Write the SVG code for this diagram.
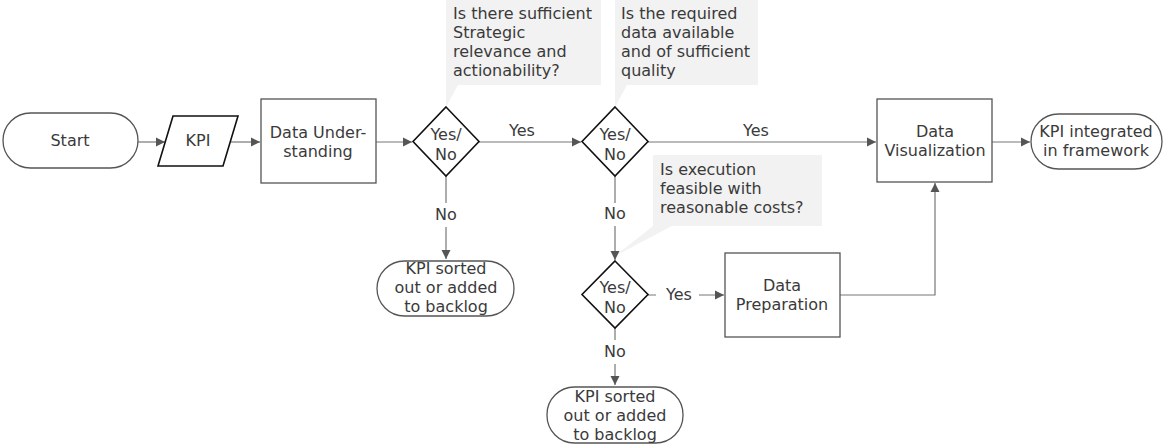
<svg xmlns="http://www.w3.org/2000/svg" width="1165" height="444" viewBox="0 0 1165 444">
<style>
text{font-family:"DejaVu Sans","Open Sans",sans-serif;font-size:16px;fill:#3a3a3a}
.c{text-anchor:middle}
.box{fill:#fff;stroke:#555;stroke-width:1.3}
.dia{fill:#fff;stroke:#111;stroke-width:1.6}
.call{fill:#f2f2f2;stroke:none}
.ln{fill:none;stroke:#777;stroke-width:1.2}
</style>
<defs>
<marker id="ah" markerWidth="10" markerHeight="10" refX="9" refY="5" orient="auto" markerUnits="userSpaceOnUse">
<path d="M0,0.5 L9,5 L0,9.5 Z" fill="#555"/>
</marker>
</defs>
<g id="callouts">
<g id="callout1"><path class="call" d="M446,0 H601 V85 H458 L446,107 V85 Z"/>
<text x="453" y="19">Is there sufficient</text><text x="453" y="38">Strategic</text><text x="453" y="57">relevance and</text><text x="453" y="76">actionability?</text></g>
<g id="callout2"><path class="call" d="M615,0 H758 V85 H627 L615,107 V85 Z"/>
<text x="621" y="19">Is the required</text><text x="621" y="38">data available</text><text x="621" y="57">and of sufficient</text><text x="621" y="76">quality</text></g>
<g id="callout3"><path class="call" d="M653,155 H822 V226 H672 L615,256 L653,226 Z"/>
<text x="660" y="175">Is execution</text><text x="660" y="194">feasible with</text><text x="660" y="213">reasonable costs?</text></g>
</g>
<g id="connectors">
<line class="ln" x1="138" y1="142" x2="165" y2="142" marker-end="url(#ah)"/>
<line class="ln" x1="231" y1="142" x2="260" y2="142" marker-end="url(#ah)"/>
<line class="ln" x1="376" y1="142" x2="412" y2="142" marker-end="url(#ah)"/>
<line class="ln" x1="479" y1="142" x2="581" y2="142" marker-end="url(#ah)"/>
<line class="ln" x1="648" y1="142" x2="876" y2="142" marker-end="url(#ah)"/>
<line class="ln" x1="992" y1="142" x2="1030" y2="142" marker-end="url(#ah)"/>
<path class="ln" d="M446,176 V203 M446,227 V259" marker-end="url(#ah)"/>
<path class="ln" d="M615,176 V203 M615,226 V260" marker-end="url(#ah)"/>
<path class="ln" d="M615,328 V340 M615,364 V385" marker-end="url(#ah)"/>
<path class="ln" d="M648,295 H656 M699,295 H724" marker-end="url(#ah)"/>
<path class="ln" d="M840,295 H935 V183" marker-end="url(#ah)"/>
<text class="c" x="522" y="136">Yes</text>
<text class="c" x="756" y="136">Yes</text>
<text class="c" x="446" y="220">No</text>
<text class="c" x="615" y="219">No</text>
<text class="c" x="679" y="300">Yes</text>
<text class="c" x="615" y="357">No</text>
</g>
<g id="start"><rect class="box" x="3" y="113" width="135" height="55" rx="27.5"/><text class="c" x="70" y="146">Start</text></g>
<g id="kpi"><path class="dia" d="M173,116 H238 L223,166 H158 Z"/><text class="c" x="198" y="146">KPI</text></g>
<g id="understanding"><rect class="box" x="261" y="99" width="115" height="84"/><text class="c" x="318" y="138">Data Under-</text><text class="c" x="318" y="157">standing</text></g>
<g id="decision1"><path class="dia" d="M446,107 L479,141.5 L446,176 L413,141.5 Z"/><text class="c" x="446" y="140">Yes/</text><text class="c" x="446" y="160">No</text></g>
<g id="decision2"><path class="dia" d="M615,107 L648,141.5 L615,176 L582,141.5 Z"/><text class="c" x="615" y="140">Yes/</text><text class="c" x="615" y="160">No</text></g>
<g id="decision3"><path class="dia" d="M615,261 L648,294.5 L615,328 L582,294.5 Z"/><text class="c" x="615" y="293">Yes/</text><text class="c" x="615" y="313">No</text></g>
<g id="backlog1"><rect class="box" x="377" y="261" width="137" height="55" rx="27.5"/><text class="c" x="446" y="274">KPI sorted</text><text class="c" x="446" y="293">out or added</text><text class="c" x="446" y="312">to backlog</text></g>
<g id="backlog2"><rect class="box" x="547" y="387" width="136" height="56" rx="27.5"/><text class="c" x="615" y="402">KPI sorted</text><text class="c" x="615" y="421">out or added</text><text class="c" x="615" y="440">to backlog</text></g>
<g id="preparation"><rect class="box" x="725" y="253" width="115" height="84"/><text class="c" x="782" y="291">Data</text><text class="c" x="782" y="310">Preparation</text></g>
<g id="visualization"><rect class="box" x="877" y="99" width="115" height="83"/><text class="c" x="935" y="137">Data</text><text class="c" x="935" y="156">Visualization</text></g>
<g id="end"><rect class="box" x="1031" y="114" width="131" height="55" rx="27.5"/><text class="c" x="1096" y="137">KPI integrated</text><text class="c" x="1096" y="156">in framework</text></g>
</svg>
